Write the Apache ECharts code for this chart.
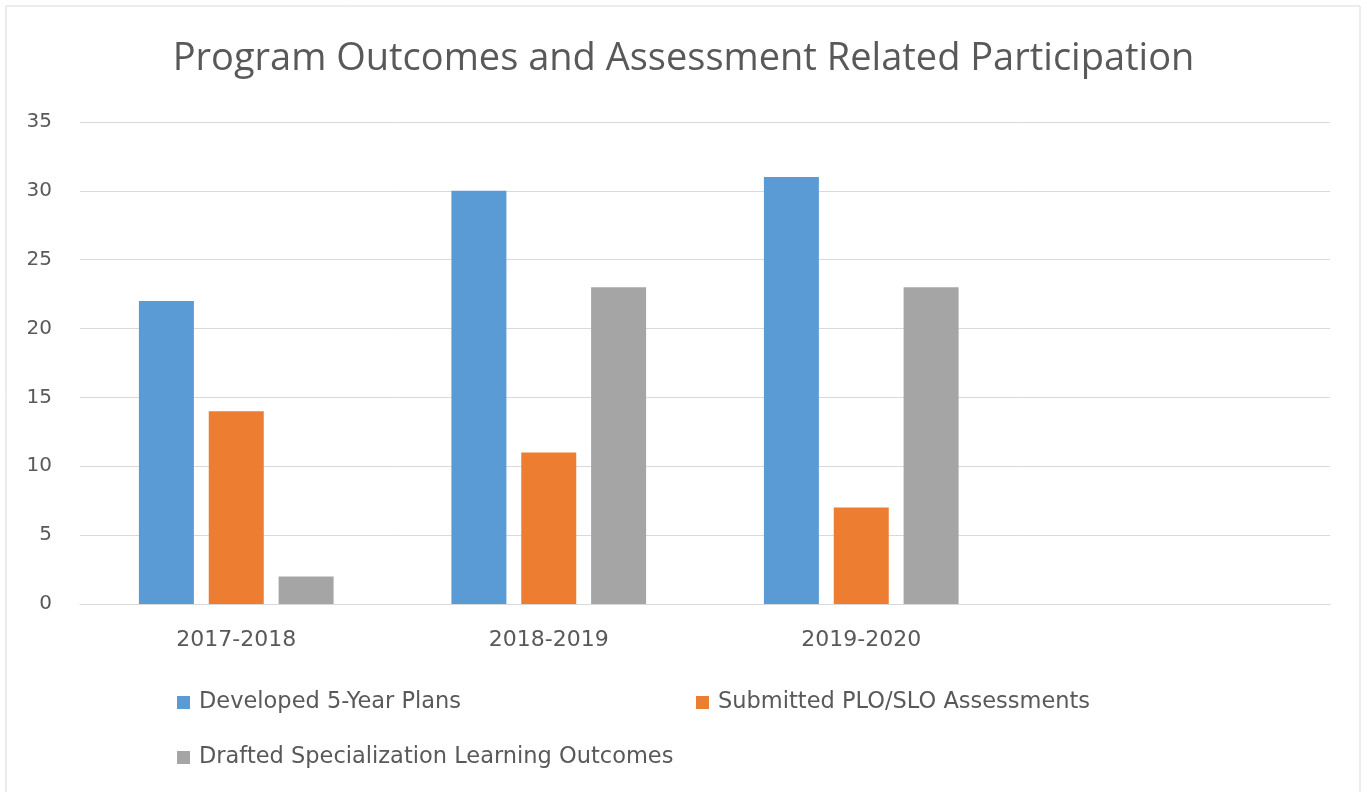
<!DOCTYPE html>
<html>
<head>
<meta charset="utf-8">
<script src="https://cdn.jsdelivr.net/npm/echarts@6/dist/echarts.min.js"></script>
<style>
  html, body { margin: 0; padding: 0; background: #fff; }
  #main { width: 1367px; height: 792px; }
</style>
</head>
<body>
<div id="main"></div>
<script>
var categories = ['2017-2018', '2018-2019', '2019-2020', ''];
var seriesNames = ['Developed 5-Year Plans', 'Submitted PLO/SLO Assessments', 'Drafted Specialization Learning Outcomes'];
var plans = [22, 30, 31, null];
var assessments = [14, 11, 7, null];
var outcomes = [2, 23, 23, null];
var yTicks = [0, 5, 10, 15, 20, 25, 30, 35];

(function(){
    var myChart = echarts.init(document.getElementById('main'));
    var titleFont = '"Open Sans", Lato, sans-serif';
    var font = '"DejaVu Sans", sans-serif';
    var legendText = { color: '#595959', fontSize: 22.5, fontFamily: font, padding: [0, 0, 0, 4] };
    var option = {
        backgroundColor: '#fff',
        color: ['#5B9BD5', '#ED7D31', '#A5A5A5'],
        graphic: [{
            type: 'rect',
            shape: { x: 6, y: 6, width: 1354, height: 790 },
            style: { fill: 'none', stroke: '#d9d9d9', lineWidth: 1 },
            silent: true
        }],
        title: {
            text: 'Program Outcomes and Assessment Related Participation',
            left: 'center',
            top: 35,
            textStyle: { color: '#595959', fontSize: 38, fontWeight: 'normal', fontFamily: titleFont }
        },
        legend: [
            { data: [seriesNames[0]], left: 172, top: 686, itemWidth: 13, itemHeight: 13, icon: 'rect', textStyle: legendText },
            { data: [seriesNames[1]], left: 691, top: 686, itemWidth: 13, itemHeight: 13, icon: 'rect', textStyle: legendText },
            { data: [seriesNames[2]], left: 172, top: 741, itemWidth: 13, itemHeight: 13, icon: 'rect', textStyle: legendText }
        ],
        grid: { left: 80, right: 37, top: 122, bottom: 188 },
        xAxis: {
            type: 'category',
            data: categories,
            axisLine: { lineStyle: { color: '#d9d9d9' } },
            axisTick: { show: false },
            axisLabel: { color: '#595959', fontSize: 22, fontFamily: font, margin: 25 }
        },
        yAxis: {
            type: 'value',
            min: yTicks[0],
            max: yTicks[yTicks.length - 1],
            interval: 5,
            axisLine: { show: false },
            axisTick: { show: false },
            splitLine: { lineStyle: { color: '#d9d9d9' } },
            axisLabel: { color: '#595959', fontSize: 20, fontFamily: font, margin: 28 }
        },
        series: [
            { name: seriesNames[0], type: 'bar', data: plans, barWidth: 55, barGap: '27%' },
            { name: seriesNames[1], type: 'bar', data: assessments, barWidth: 55, barGap: '27%' },
            { name: seriesNames[2], type: 'bar', data: outcomes, barWidth: 55, barGap: '27%' }
        ]
    };
    myChart.setOption(option);
})();
</script>
</body>
</html>
